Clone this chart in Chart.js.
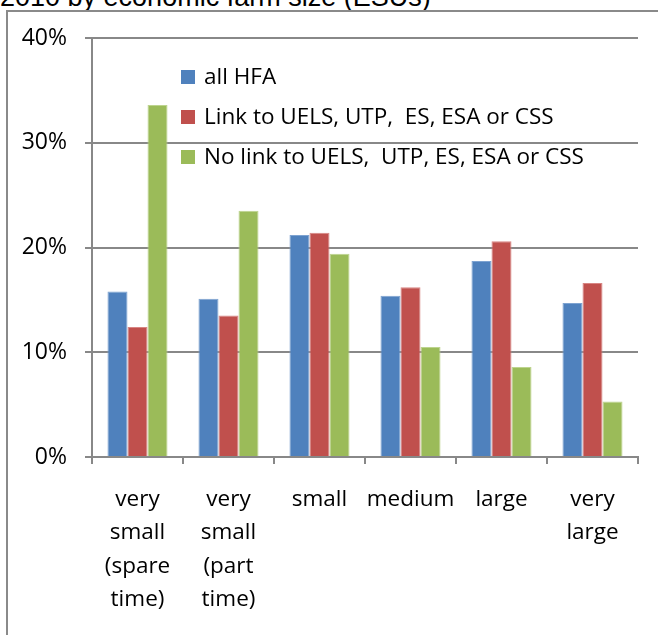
<!DOCTYPE html>
<html>
<head>
<meta charset="utf-8">
<script src="https://cdn.jsdelivr.net/npm/chart.js@4.4.1/dist/chart.umd.min.js"></script>
<style>
  html, body { margin: 0; padding: 0; background: #fff; overflow: hidden; }
  #wrap { position: relative; width: 658px; height: 635px; overflow: hidden; }
  #title { position: absolute; left: 0; top: -18px; font: 27px "Liberation Sans", Arial, sans-serif; color: #000; white-space: nowrap; }
  #frame { position: absolute; left: 6px; top: 10px; width: 800px; height: 800px; border-left: 2px solid #8a8a8a; border-top: 2px solid #8a8a8a; }
  #chartCanvas { position: absolute; left: 0; top: 0; }
</style>
</head>
<body>
<div id="wrap">
  <div id="title">2010 by economic farm size (ESUs)</div>
  <div id="frame"></div>
  <canvas id="chartCanvas" width="658" height="635"></canvas>
</div>
<script>
// farm size classes
const categories = [
  ["very", "small", "(spare", "time)"],
  ["very", "small", "(part", "time)"],
  "small",
  "medium",
  "large",
  ["very", "large"],
];

// share of holdings, %
const allHFA = [15.8, 15.1, 21.2, 15.4, 18.7, 14.7];
const linkUELS = [12.4, 13.5, 21.4, 16.2, 20.6, 16.6];
const noLinkUELS = [33.6, 23.5, 19.4, 10.5, 8.6, 5.3];

const seriesNames = [
  "all HFA",
  "Link to UELS, UTP,  ES, ESA or CSS",
  "No link to UELS,  UTP, ES, ESA or CSS",
];

const yTicks = [0, 10, 20, 30, 40];

const fontName = "'Open Sans', sans-serif";
const gridGray = "#888888";

// legend drawn inside the plot area, like the original
const insideLegend = {
  id: "insideLegend",
  afterDraw(chart) {
    const ctx = chart.ctx;
    const area = chart.chartArea;
    const x0 = area.left + 89;
    const y0 = area.top + 39;
    ctx.save();
    ctx.font = "22.5px " + fontName;
    ctx.textBaseline = "middle";
    chart.data.datasets.forEach((ds, i) => {
      const y = y0 + i * 40;
      ctx.fillStyle = ds.backgroundColor;
      ctx.fillRect(x0, y - 7, 14, 14);
      ctx.fillStyle = "#000";
      ctx.fillText(ds.label, x0 + 23, y + 1);
    });
    ctx.restore();
  },
};

const ctx = document.getElementById("chartCanvas").getContext("2d");
new Chart(ctx, {
  type: "bar",
  data: {
    labels: categories,
    datasets: [
      {
        label: seriesNames[0],
        data: allHFA,
        backgroundColor: "#4F81BD",
        borderColor: "#7EA3D1",
        borderWidth: 1,
      },
      {
        label: seriesNames[1],
        data: linkUELS,
        backgroundColor: "#C0504D",
        borderColor: "#D88583",
        borderWidth: 1,
      },
      {
        label: seriesNames[2],
        data: noLinkUELS,
        backgroundColor: "#9BBB59",
        borderColor: "#BDD48E",
        borderWidth: 1,
      },
    ],
  },
  options: {
    responsive: false,
    animation: false,
    categoryPercentage: 0.66,
    barPercentage: 1.0,
    layout: { padding: { top: 38, right: 20, left: 0, bottom: 0 } },
    plugins: {
      legend: { display: false },
      tooltip: { enabled: false },
    },
    scales: {
      x: {
        grid: {
          offset: true,
          drawOnChartArea: false,
          drawTicks: true,
          tickLength: 7,
          color: gridGray,
          lineWidth: 2,
        },
        border: { display: true, color: gridGray, width: 2 },
        ticks: {
          color: "#000",
          font: { family: fontName, size: 22.5, lineHeight: 1.48 },
          padding: 19,
          maxRotation: 0,
          autoSkip: false,
        },
        afterFit(scale) { scale.height = 178; },
      },
      y: {
        min: 0,
        max: 40,
        afterBuildTicks(scale) {
          scale.ticks = yTicks.map((v) => ({ value: v }));
        },
        grid: {
          color: gridGray,
          lineWidth: 2,
          drawTicks: true,
          tickLength: 7,
        },
        border: { display: true, color: gridGray, width: 2 },
        ticks: {
          color: "#000",
          font: { family: fontName, size: 23 },
          padding: 18,
          callback: (v) => v + "%",
        },
        afterFit(scale) { scale.width = 92; },
      },
    },
  },
  plugins: [insideLegend],
});
</script>
</body>
</html>
